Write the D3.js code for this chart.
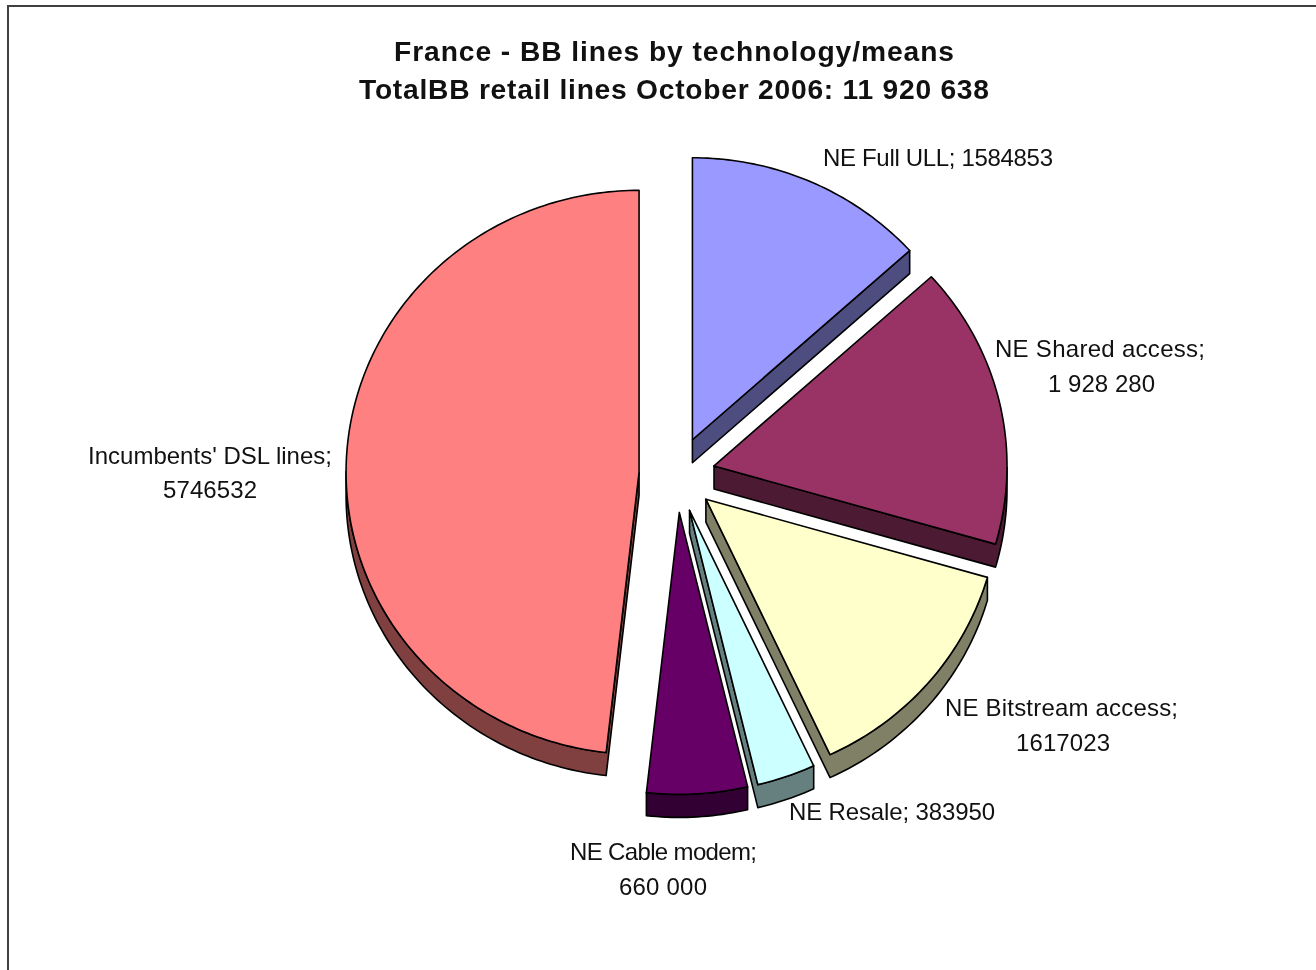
<!DOCTYPE html>
<html>
<head>
<meta charset="utf-8">
<title>France - BB lines by technology/means</title>
<script src="https://cdn.jsdelivr.net/npm/d3@7"></script>
<style>
  html, body { margin: 0; padding: 0; background: #fff; }
  svg { display: block; filter: blur(0.45px); }
  text { font-family: "Liberation Sans", Arial, sans-serif; fill: #111; text-anchor: middle; }
  .title { font-size: 28.2px; font-weight: bold; }
  .label { font-size: 24px; }
</style>
</head>
<body>
<div id="chart"></div>
<script>
const titleLines = [
  "France - BB lines by technology/means",
  "TotalBB retail lines October 2006: 11 920 638"
];
const categories = ["NE Full ULL", "NE Shared access", "NE Bitstream access", "NE Resale", "NE Cable modem", "Incumbents' DSL lines"];
const values     = [1584853, 1928280, 1617023, 383950, 660000, 5746532];
const labelLines = [
  ["NE Full ULL; 1584853"],
  ["NE Shared access;", "1 928 280"],
  ["NE Bitstream access;", "1617023"],
  ["NE Resale; 383950"],
  ["NE Cable modem;", "660 000"],
  ["Incumbents' DSL lines;", "5746532"]
];

const topColors  = ["#9999ff", "#993366", "#ffffcc", "#ccffff", "#660066", "#ff8080"];
const sideColors = ["#4d4d80", "#4d1a33", "#808066", "#668080", "#330033", "#804040"];

// label layout: centre x, baseline y, text width per line
const labelBoxes = [
  [[938, 166, 230]],
  [[1100, 357, 210], [1101.5, 391.5, 107]],
  [[1061.5, 716, 233], [1063, 750.5, 94]],
  [[892, 820, 206]],
  [[663.5, 860, 187], [663, 894.5, 88]],
  [[210, 464, 244], [210, 498, 94]]
];
const titleWidths = [560, 630];

const width = 1316, height = 970;
const center = { x: 677, y: 474.5 };
const radiusX = 293, radiusY = 282;
const explode = 38;   // every slice is pulled out by the same amount
const depth = 23;

const svg = d3.select("#chart").append("svg")
  .attr("width", width)
  .attr("height", height);

// chart frame, runs off the right and bottom of the image
svg.append("rect")
  .attr("x", 8).attr("y", 6)
  .attr("width", width + 40).attr("height", height + 40)
  .attr("fill", "#fff")
  .attr("stroke", "#404040")
  .attr("stroke-width", 2);

svg.selectAll(".title")
  .data(titleLines)
  .join("text")
  .attr("class", "title")
  .attr("x", 674)
  .attr("y", (d, i) => 61 + i * 38)
  .attr("textLength", (d, i) => titleWidths[i])
  .attr("lengthAdjust", "spacing")
  .text(d => d);

const pie = d3.pie().sort(null).value(d => d);
const arcs = pie(values);

const line = d3.line();

// clockwise ring: apex, then round the outer edge
function sliceRing(a) {
  const mid = (a.startAngle + a.endAngle) / 2;
  const ox = center.x + explode * Math.sin(mid);
  const oy = center.y - explode * Math.cos(mid);
  const steps = Math.max(2, Math.ceil((a.endAngle - a.startAngle) / (Math.PI / 180)));
  const angle = d3.scaleLinear().domain([0, steps]).range([a.startAngle, a.endAngle]);
  const ring = [[ox, oy]];
  d3.range(steps + 1).forEach(i => {
    const t = angle(i);
    ring.push([ox + radiusX * Math.sin(t), oy - radiusY * Math.cos(t)]);
  });
  return ring;
}

// walls: edges of the ring that travel leftwards face the viewer
function wallPoints(ring) {
  const n = ring.length;
  const faces = i => ring[(i + 1) % n][0] < ring[i][0] - 1e-6;
  let start = 0;
  for (let i = 0; i < n; i++) {
    if (faces(i) && !faces((i - 1 + n) % n)) { start = i; break; }
  }
  const run = [ring[start]];
  for (let k = 0; k < n; k++) {
    const i = (start + k) % n;
    if (!faces(i)) break;
    run.push(ring[(i + 1) % n]);
  }
  const lower = run.slice().reverse().map(p => [p[0], p[1] + depth]);
  return run.concat(lower);
}

const rings = arcs.map(sliceRing);

const slices = svg.selectAll(".slice")
  .data(rings)
  .join("g")
  .attr("class", "slice");

slices.append("path")
  .attr("d", d => line(wallPoints(d)) + "Z")
  .attr("fill", (d, i) => sideColors[i])
  .attr("stroke", "#000")
  .attr("stroke-width", 1.6)
  .attr("stroke-linejoin", "round");

slices.append("path")
  .attr("d", d => line(d) + "Z")
  .attr("fill", (d, i) => topColors[i])
  .attr("stroke", "#000")
  .attr("stroke-width", 1.6)
  .attr("stroke-linejoin", "round");

// one text per line so each can be fitted to its measured width
categories.forEach((c, i) => {
  svg.selectAll(`.label-${i}`)
    .data(labelLines[i])
    .join("text")
    .attr("class", `label label-${i}`)
    .attr("x", (d, j) => labelBoxes[i][j][0])
    .attr("y", (d, j) => labelBoxes[i][j][1])
    .attr("textLength", (d, j) => labelBoxes[i][j][2])
    .attr("lengthAdjust", "spacing")
    .text(d => d);
});
</script>
</body>
</html>
